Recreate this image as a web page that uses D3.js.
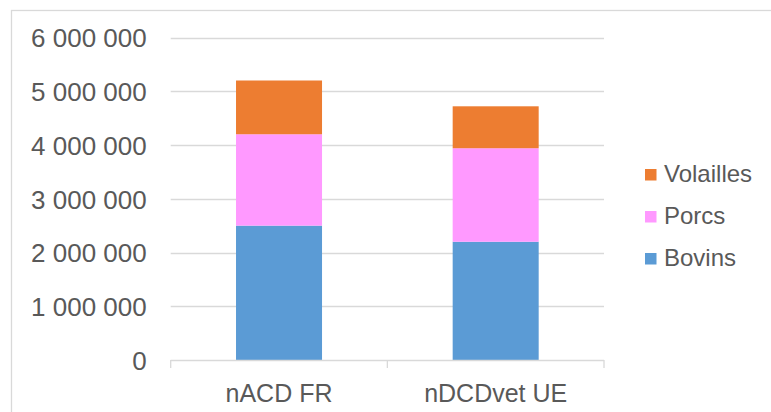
<!DOCTYPE html>
<html>
<head>
<meta charset="utf-8">
<script src="https://cdn.jsdelivr.net/npm/d3@7"></script>
<style>
  html, body { margin: 0; padding: 0; background: #fff; }
  svg { display: block; }
  text { font-family: "Liberation Sans", Arial, sans-serif; fill: #595959; }
</style>
</head>
<body>
<svg id="chart" width="771" height="412"></svg>
<script>
const categories = ["nACD FR", "nDCDvet UE"];
const seriesNames = ["Bovins", "Porcs", "Volailles"];
const bovins = [2500000, 2200000];
const porcs = [1700000, 1740000];
const volailles = [1000000, 780000];
const seriesColors = ["#5B9BD5", "#FF99FF", "#ED7D31"];
const yTicks = [0, 1000000, 2000000, 3000000, 4000000, 5000000, 6000000];

const svg = d3.select("#chart");
const W = 771, H = 412;

// outer chart border
svg.append("rect")
  .attr("x", 11.5).attr("y", 10.5)
  .attr("width", W + 10).attr("height", H + 10)
  .attr("fill", "none").attr("stroke", "#d9d9d9").attr("stroke-width", 1.3);

const plot = { left: 170.7, right: 604, top: 37.5, bottom: 360 };

const table = categories.map((c, i) => ({ cat: c, Bovins: bovins[i], Porcs: porcs[i], Volailles: volailles[i] }));
const stack = d3.stack().keys(seriesNames)(table);

const x = d3.scaleBand().domain(categories).range([plot.left, plot.right]).paddingInner(0.603).paddingOuter(0.3015);
const y = d3.scaleLinear().domain([0, 6000000]).range([plot.bottom, plot.top]);
const color = d3.scaleOrdinal().domain(seriesNames).range(seriesColors);

const fmt = v => d3.format(",")(v).replace(/,/g, " ");

// gridlines
svg.append("g").selectAll("line").data(yTicks.filter(t => t > 0)).join("line")
  .attr("x1", plot.left).attr("x2", plot.right)
  .attr("y1", d => Math.round(y(d)) + 0.5).attr("y2", d => Math.round(y(d)) + 0.5)
  .attr("stroke", "#d9d9d9").attr("stroke-width", 1.3);

// y labels
const yAxis = d3.axisLeft(y).tickValues(yTicks).tickFormat(fmt).tickSize(0).tickPadding(0);
const yg = svg.append("g").attr("transform", `translate(146.7,0)`).call(yAxis);
yg.select(".domain").remove();
yg.selectAll("text")
  .attr("font-size", 26).attr("fill", "#595959")
  .attr("font-family", '"Liberation Sans", Arial, sans-serif')
  .attr("dy", "0.36em");

// bars
svg.append("g").selectAll("g").data(stack).join("g")
  .attr("fill", d => color(d.key))
  .selectAll("rect").data(d => d).join("rect")
  .attr("x", d => x(d.data.cat))
  .attr("width", x.bandwidth())
  .attr("y", d => y(d[1]))
  .attr("height", d => y(d[0]) - y(d[1]));

// x axis
const xAxisScale = d3.scalePoint().domain([0, 1, 2]).range([plot.left, plot.right]);
const xg = svg.append("g");
xg.append("line")
  .attr("x1", plot.left).attr("x2", plot.right)
  .attr("y1", plot.bottom + 0.5).attr("y2", plot.bottom + 0.5)
  .attr("stroke", "#d9d9d9").attr("stroke-width", 1.3);
xg.selectAll("line.tick").data([0, 1, 2]).join("line").attr("class", "tick")
  .attr("x1", d => xAxisScale(d)).attr("x2", d => xAxisScale(d))
  .attr("y1", plot.bottom).attr("y2", plot.bottom + 8)
  .attr("stroke", "#d9d9d9").attr("stroke-width", 1.3);
xg.selectAll("text").data(categories).join("text")
  .attr("x", d => x(d) + x.bandwidth() / 2)
  .attr("y", 402)
  .attr("text-anchor", "middle")
  .attr("font-size", 25)
  .text(d => d);

// legend
const legendOrder = ["Volailles", "Porcs", "Bovins"];
const lg = svg.append("g").selectAll("g").data(legendOrder).join("g")
  .attr("transform", (d, i) => `translate(645, ${169 + i * 42})`);
lg.append("rect").attr("width", 11.5).attr("height", 11.5).attr("fill", d => color(d));
lg.append("text").attr("x", 19).attr("y", 13.3).attr("font-size", 24).text(d => d);
</script>
</body>
</html>
